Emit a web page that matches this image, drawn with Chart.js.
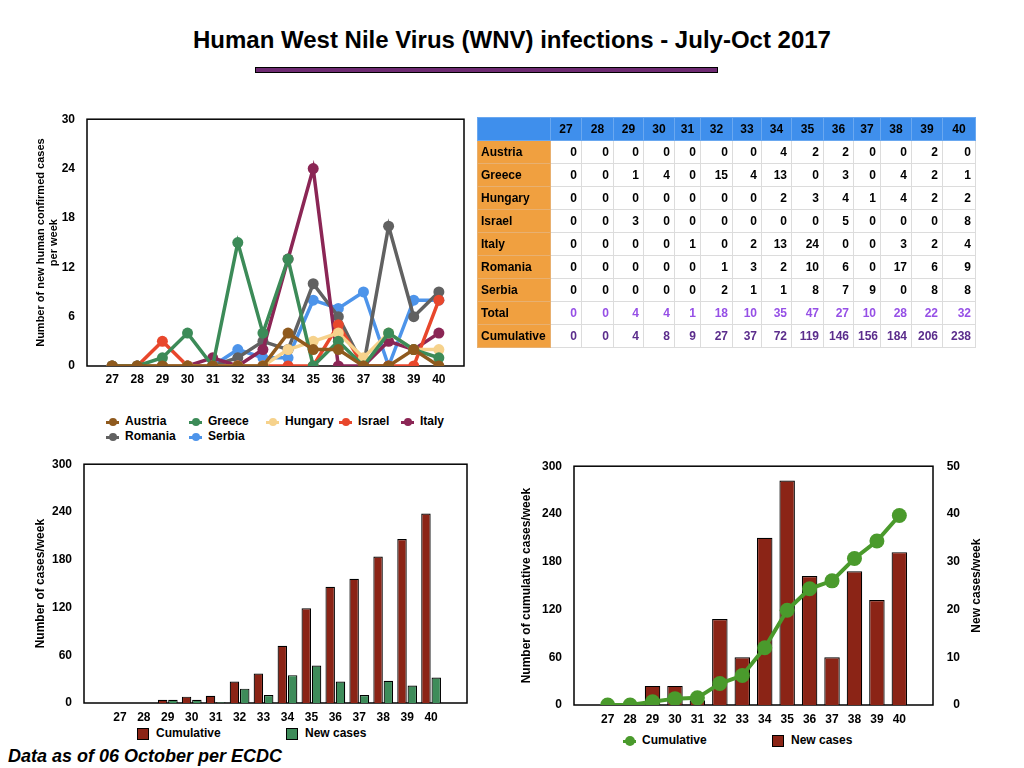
<!DOCTYPE html>
<html>
<head>
<meta charset="utf-8">
<script src="https://cdn.jsdelivr.net/npm/chart.js@4.4.1/dist/chart.umd.min.js"></script>
<style>
  body { margin: 0; width: 1024px; height: 768px; background: #fff; position: relative; overflow: hidden;
         font-family: "Liberation Sans", Arial, sans-serif; color: #000; }
  .abs { position: absolute; }
  #title { left: 0; width: 1024px; top: 26px; text-align: center; font: bold 24px "Liberation Sans Narrow", "Liberation Sans", sans-serif; }
  #rule { left: 255px; top: 67px; width: 461px; height: 4px; background: #6e2a72; border: 1px solid #000; }
  #tbl { left: 477px; top: 117px; border-collapse: collapse; font: bold 12px "Liberation Sans", Arial, sans-serif; }
  #tbl td, #tbl th { height: 23px; padding: 0 4px; border: 1px solid #dcdcdc; text-align: right; box-sizing: border-box; }
  #tbl th { background: #3f8fec; border-color: #6aa8f0; text-align: center; font-weight: bold; }
  #tbl td.name { background: #f0a040; border-color: #e8b070; text-align: left; padding-left: 3px; }
  #tbl tr.total td { color: #9650e6; }
  #tbl tr.cum td { color: #5b2d8c; }
  #tbl tr.total td.name, #tbl tr.cum td.name { color: #000; }
  .leg { position: absolute; height: 16px; line-height: 16px; font: bold 12px "Liberation Sans", Arial, sans-serif; white-space: nowrap; }
  .mk { display: inline-block; position: relative; width: 13px; height: 16px; vertical-align: top; margin-right: 6px; }
  .mk .ln { position: absolute; left: 0; top: 6.5px; width: 13px; height: 3px; }
  .mk .dt { position: absolute; left: 2.5px; top: 4px; width: 8px; height: 8px; border-radius: 50%; }
  .sq { display: inline-block; width: 10px; height: 10px; border: 1px solid #000; vertical-align: top; margin-top: 2px; margin-right: 7px; }
  #note { left: 8px; top: 746px; font: italic bold 18px "Liberation Sans", Arial, sans-serif; }
</style>
</head>
<body>
<div id="title" class="abs">Human West Nile Virus (WNV) infections - July-Oct 2017</div>
<div id="rule" class="abs"></div>

<div class="abs" style="left:20px;top:100px;width:470px;height:300px;"><canvas id="countries"></canvas></div>
<table id="tbl" class="abs"></table>
<div class="abs" style="left:20px;top:445px;width:470px;height:280px;"><canvas id="barsBoth"></canvas></div>
<div class="abs" style="left:500px;top:445px;width:510px;height:285px;"><canvas id="combo"></canvas></div>
<div id="legends"></div>
<div id="note" class="abs">Data as of 06 October per ECDC</div>

<script>
// ISO weeks 2017 (ECDC table)
const weeks = ['27', '28', '29', '30', '31', '32', '33', '34', '35', '36', '37', '38', '39', '40'];
const austria  = [0, 0, 0, 0, 0, 0, 0, 4, 2, 2, 0, 0, 2, 0];
const greece   = [0, 0, 1, 4, 0, 15, 4, 13, 0, 3, 0, 4, 2, 1];
const hungary  = [0, 0, 0, 0, 0, 0, 0, 2, 3, 4, 1, 4, 2, 2];
const israel   = [0, 0, 3, 0, 0, 0, 0, 0, 0, 5, 0, 0, 0, 8];
const italy    = [0, 0, 0, 0, 1, 0, 2, 13, 24, 0, 0, 3, 2, 4];
const romania  = [0, 0, 0, 0, 0, 1, 3, 2, 10, 6, 0, 17, 6, 9];
const serbia   = [0, 0, 0, 0, 0, 2, 1, 1, 8, 7, 9, 0, 8, 8];
const totals     = [0, 0, 4, 4, 1, 18, 10, 35, 47, 27, 10, 28, 22, 32];
const cumulative = [0, 0, 4, 8, 9, 27, 37, 72, 119, 146, 156, 184, 206, 238];

const countryNames = ['Austria', 'Greece', 'Hungary', 'Israel', 'Italy', 'Romania', 'Serbia'];
const countryValues = [austria, greece, hungary, israel, italy, romania, serbia];
const countryColors = ['#8f5a1e', '#3c8b58', '#f6d28c', '#e8472c', '#8b2655', '#616161', '#4d94ea'];

const yTicksCountries = [0, 6, 12, 18, 24, 30];
const yTicksCumulative = [0, 60, 120, 180, 240, 300];
const yTicksNew = [0, 10, 20, 30, 40, 50];

const RED = '#8b2416';
const GREEN_BAR = '#3e8c5a';
const GREEN_LINE = '#4a9a2c';

Chart.defaults.font.family = '"Liberation Sans", Arial, sans-serif';
Chart.defaults.font.size = 12;
Chart.defaults.font.weight = 'bold';
Chart.defaults.color = '#000';
Chart.defaults.animation = false;
Chart.defaults.responsive = true;
Chart.defaults.maintainAspectRatio = false;

// one empty slot on each side of the weeks, like the slide
const padLabels = ['', ...weeks, ''];
const pad = arr => [null, ...arr, null];

// black frame around the plot area
const frame = {
  id: 'frame',
  beforeDatasetsDraw(chart) {
    const a = chart.chartArea, ctx = chart.ctx;
    ctx.save();
    ctx.strokeStyle = '#000';
    ctx.lineWidth = 1.5;
    ctx.strokeRect(a.left, a.top, a.right - a.left, a.bottom - a.top);
    ctx.restore();
  }
};

const flatGrid = { display: false, drawTicks: false };
const fixedTicks = vals => s => { s.ticks = vals.map(v => ({ value: v })); };

// --- per-country weekly cases ---
new Chart(document.getElementById('countries'), {
  type: 'line',
  data: {
    labels: padLabels,
    datasets: countryNames.map((name, i) => ({
      label: name,
      data: pad(countryValues[i]),
      borderColor: countryColors[i],
      backgroundColor: countryColors[i],
      pointBackgroundColor: countryColors[i],
      borderWidth: 3.5,
      pointRadius: 5.5,
      pointBorderWidth: 0,
      tension: 0
    }))
  },
  options: {
    layout: { padding: { left: 0, top: 19, right: 26, bottom: 0 } },
    plugins: { legend: { display: false }, tooltip: { enabled: false } },
    scales: {
      x: {
        grid: flatGrid, border: { display: false },
        ticks: { padding: 6, autoSkip: false, maxRotation: 0 },
        afterFit: s => { s.height = 34; }
      },
      y: {
        min: 0, max: 30,
        grid: flatGrid, border: { display: false },
        ticks: { padding: 12 },
        afterBuildTicks: fixedTicks(yTicksCountries),
        title: { display: true, text: ['Number of new human confirmed cases', 'per week'],
                 font: { size: 11, weight: 'bold' }, padding: { top: 14, bottom: 0 } },
        afterFit: s => { s.width = 67; }
      }
    }
  },
  plugins: [frame]
});

// --- table ---
const tbl = document.getElementById('tbl');
const colW = [31, 32, 30, 31, 26, 32, 29, 30, 32, 30, 27, 31, 31, 33];
let html = '<tr><th style="width:73px"></th>' + weeks.map((w, i) => `<th style="width:${colW[i]}px">${w}</th>`).join('') + '</tr>';
const rowsOut = countryNames.map((n, i) => [n, countryValues[i], ''])
  .concat([['Total', totals, 'total'], ['Cumulative', cumulative, 'cum']]);
rowsOut.forEach(([n, vals, cls]) => {
  html += `<tr class="${cls}"><td class="name">${n}</td>` + vals.map(v => `<td>${v}</td>`).join('') + '</tr>';
});
tbl.innerHTML = html;
tbl.style.width = (73 + colW.reduce((a, b) => a + b, 0)) + 'px';
tbl.style.tableLayout = 'fixed';

// --- cumulative + new cases, same axis ---
new Chart(document.getElementById('barsBoth'), {
  type: 'bar',
  data: {
    labels: padLabels,
    datasets: [
      { label: 'Cumulative', data: pad(cumulative), backgroundColor: RED, borderColor: '#000', borderWidth: 1.2,
        categoryPercentage: 0.86, barPercentage: 0.92 },
      { label: 'New cases', data: pad(totals), backgroundColor: GREEN_BAR, borderColor: '#000', borderWidth: 1.2,
        categoryPercentage: 0.86, barPercentage: 0.92 }
    ]
  },
  options: {
    layout: { padding: { left: 0, top: 12, right: 23, bottom: 0 } },
    plugins: { legend: { display: false }, tooltip: { enabled: false } },
    scales: {
      x: {
        grid: flatGrid, border: { display: false },
        ticks: { padding: 7, autoSkip: false, maxRotation: 0 },
        afterFit: s => { s.height = 22; }
      },
      y: {
        min: 0, max: 300,
        grid: flatGrid, border: { display: false },
        ticks: { padding: 12 },
        afterBuildTicks: fixedTicks(yTicksCumulative),
        title: { display: true, text: 'Number of cases/week', padding: { top: 13, bottom: 0 } },
        afterFit: s => { s.width = 64; }
      }
    }
  },
  plugins: [frame]
});

// --- cumulative line (left) over new-case bars (right) ---
const rightTitle = {
  id: 'rightTitle',
  afterDraw(chart) {
    const a = chart.chartArea, ctx = chart.ctx;
    ctx.save();
    ctx.translate(a.right + 44, (a.top + a.bottom) / 2);
    ctx.rotate(-Math.PI / 2);
    ctx.font = 'bold 12px "Liberation Sans", Arial, sans-serif';
    ctx.fillStyle = '#000';
    ctx.textAlign = 'center';
    ctx.textBaseline = 'middle';
    ctx.fillText('New cases/week', 0, 0);
    ctx.restore();
  }
};

new Chart(document.getElementById('combo'), {
  type: 'bar',
  data: {
    labels: padLabels,
    datasets: [
      { type: 'line', label: 'Cumulative', data: pad(cumulative), yAxisID: 'y',
        borderColor: GREEN_LINE, backgroundColor: GREEN_LINE, pointBackgroundColor: GREEN_LINE,
        borderWidth: 4, pointRadius: 7.5, pointBorderWidth: 0, tension: 0 },
      { type: 'bar', label: 'New cases', data: pad(totals), yAxisID: 'y1',
        backgroundColor: RED, borderColor: '#000', borderWidth: 1.2,
        categoryPercentage: 1, barPercentage: 0.69 }
    ]
  },
  options: {
    layout: { padding: { left: 0, top: 14, right: 50, bottom: 0 } },
    plugins: { legend: { display: false }, tooltip: { enabled: false } },
    scales: {
      x: {
        grid: flatGrid, border: { display: false },
        ticks: { padding: 7, autoSkip: false, maxRotation: 0 },
        afterFit: s => { s.height = 25; }
      },
      y: {
        position: 'left', min: 0, max: 300,
        grid: flatGrid, border: { display: false },
        ticks: { padding: 12 },
        afterBuildTicks: fixedTicks(yTicksCumulative),
        title: { display: true, text: 'Number of cumulative cases/week', padding: { top: 19, bottom: 0 } },
        afterFit: s => { s.width = 74; }
      },
      y1: {
        position: 'right', min: 0, max: 50,
        grid: flatGrid, border: { display: false },
        ticks: { padding: 14, crossAlign: 'far' },
        afterBuildTicks: fixedTicks(yTicksNew),
        afterFit: s => { s.width = 27; }
      }
    }
  },
  plugins: [frame, rightTitle]
});

// --- legends (slide-style grid) ---
const legends = document.getElementById('legends');
function lineMark(color, big) {
  const dot = big ? 'left:1.5px;top:3px;width:10px;height:10px;' : '';
  return `<span class="mk"><span class="ln" style="background:${color}"></span><span class="dt" style="${dot}background:${color}"></span></span>`;
}
function sqMark(color) {
  return `<span class="sq" style="background:${color}"></span>`;
}
function legendItem(x, y, mark, text) {
  const d = document.createElement('div');
  d.className = 'leg';
  d.style.left = x + 'px';
  d.style.top = (y - 8) + 'px';
  d.innerHTML = mark + text;
  legends.appendChild(d);
}
const countryLegendPos = [[106, 422], [189, 422], [266, 422], [339, 422], [401, 422], [106, 437], [189, 437]];
countryNames.forEach((n, i) => legendItem(countryLegendPos[i][0], countryLegendPos[i][1], lineMark(countryColors[i]), n));
legendItem(137, 734, sqMark(RED), 'Cumulative');
legendItem(286, 734, sqMark(GREEN_BAR), 'New cases');
legendItem(623, 741, lineMark(GREEN_LINE, true), 'Cumulative');
legendItem(772, 741, sqMark(RED), 'New cases');
</script>
</body>
</html>
